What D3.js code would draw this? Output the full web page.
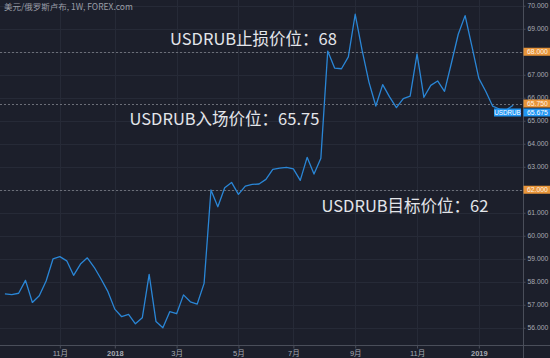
<!DOCTYPE html>
<html>
<head>
<meta charset="utf-8">
<script src="https://cdn.jsdelivr.net/npm/d3@7"></script>
<style>
  html, body { margin: 0; padding: 0; background: #1c1f2b; }
  svg { display: block; }
</style>
</head>
<body>
<svg id="chart" width="550" height="358"></svg>
<script>
// Weekly USD/RUB closes, one per Monday bar starting 2017-09-11
const firstWeek = "2017-09-11";
const closes = [
  57.47, 57.44, 57.50, 58.06, 57.10, 57.39, 58.03, 58.99, 59.09, 58.91,
  58.28, 58.77, 59.04, 58.63, 58.12, 57.57, 56.81, 56.48, 56.58, 56.17,
  56.43, 58.32, 56.27, 56.00, 56.70, 56.61, 57.43, 57.13, 57.03, 57.93,
  61.99, 61.26, 62.09, 62.32, 61.80, 62.16, 62.23, 62.25, 62.45, 62.89,
  62.94, 62.97, 62.91, 62.41, 63.41, 62.68, 63.37, 68.03, 67.29, 67.26,
  67.78, 69.63, 68.07, 66.68, 65.64, 66.57, 66.04, 65.57, 65.96, 66.07,
  67.91, 66.02, 66.54, 66.73, 66.28, 67.50, 68.76, 69.57, 68.22, 66.84,
  66.28, 65.64, 65.51, 65.47, 65.675
];

// Time-axis ticks (first weekly bar of each labelled month)
const xTickDates  = ["2017-11-06", "2018-01-01", "2018-03-05", "2018-05-07", "2018-07-02", "2018-09-03", "2018-11-05", "2019-01-07"];
const xTickLabels = ["11月", "2018", "3月", "5月", "7月", "9月", "11月", "2019"];
const yTicks = [56, 57, 58, 59, 60, 61, 62, 63, 64, 65, 66, 67, 68, 69, 70];

// Trade levels
const levelNames  = ["USDRUB止损价位：", "USDRUB入场价位：", "USDRUB目标价位："];
const levelValues = [68, 65.75, 62];

const symbolName = "USDRUB";
const chartTitle = "美元/俄罗斯卢布, 1W, FOREX.com";

const W = 550, H = 358;
const plotRight = 523, plotBottom = 345;

const parse = d3.utcParse("%Y-%m-%d");
const start = parse(firstWeek);
const weeks = closes.map((_, i) => d3.utcMonday.offset(start, i));
const data = weeks.map((d, i) => ({ date: d, value: closes[i] }));

const x = d3.scaleUtc()
  .domain([parse("2017-09-06"), parse("2019-02-21")])
  .range([0, plotRight]);
const y = d3.scaleLinear()
  .domain([55.25, 70.25])
  .range([plotBottom, 0]);

const svg = d3.select("#chart");
const bg = "#1c1f2b";
const gridColor = "#262a37";
const axisText = "#a7aab3";
const fontUI = "'Liberation Sans', Arial, sans-serif";
const fontCJK = "'Noto Sans CJK SC', 'Noto Sans', sans-serif";
const fontMixed = "'Liberation Sans', 'Noto Sans CJK SC', sans-serif";
const scaleFont = 6.8;

svg.append("rect").attr("width", W).attr("height", H).attr("fill", bg);

const tickDates = xTickDates.map(parse);

// grid
const grid = svg.append("g");
grid.selectAll("line.h").data(yTicks).join("line")
  .attr("x1", 0).attr("x2", plotRight)
  .attr("y1", d => Math.round(y(d)) + 0.5).attr("y2", d => Math.round(y(d)) + 0.5)
  .attr("stroke", gridColor).attr("stroke-width", 1);
grid.selectAll("line.v").data(tickDates).join("line")
  .attr("x1", d => Math.round(x(d)) + 0.5).attr("x2", d => Math.round(x(d)) + 0.5)
  .attr("y1", 0).attr("y2", plotBottom)
  .attr("stroke", gridColor).attr("stroke-width", 1);

// level lines (dotted)
svg.append("g").selectAll("line").data(levelValues).join("line")
  .attr("x1", 0).attr("x2", plotRight)
  .attr("y1", d => Math.round(y(d)) + 0.5).attr("y2", d => Math.round(y(d)) + 0.5)
  .attr("stroke", "#6b6e78").attr("stroke-width", 1)
  .attr("stroke-dasharray", "2,2");

// price line
svg.append("path")
  .datum(data)
  .attr("fill", "none")
  .attr("stroke", "#2a86d6")
  .attr("stroke-width", 1.3)
  .attr("stroke-linejoin", "round")
  .attr("d", d3.line().x(d => x(d.date)).y(d => y(d.value)));

// right axis
const yAxis = d3.axisRight(y)
  .tickValues(yTicks)
  .tickSize(2)
  .tickPadding(2)
  .tickFormat(d3.format(".3f"));
const gy = svg.append("g")
  .attr("transform", `translate(${plotRight + 0.5},0)`)
  .call(yAxis);
gy.select(".domain").attr("stroke", "#4a4e5a").attr("d", `M0,0V${H}`);
gy.selectAll(".tick line").attr("stroke", "#4a4e5a");
gy.selectAll(".tick text").attr("fill", axisText).attr("font-size", scaleFont).attr("font-family", fontUI);

// bottom axis
const xAxis = d3.axisBottom(x)
  .tickValues(tickDates)
  .tickSize(3)
  .tickPadding(2)
  .tickFormat((d, i) => xTickLabels[i]);
const gx = svg.append("g")
  .attr("transform", `translate(0,${plotBottom + 0.5})`)
  .call(xAxis);
gx.select(".domain").attr("stroke", "#4a4e5a").attr("d", `M0,0H${W}`);
gx.selectAll(".tick line").attr("stroke", "#4a4e5a");
gx.selectAll(".tick text")
  .attr("fill", axisText).attr("font-size", 7.5).attr("font-family", fontMixed)
  .attr("font-weight", (d, i) => /^\d+$/.test(xTickLabels[i]) ? "bold" : "normal");

// price tags on the right scale
const tagH = 8;
const fmt = d3.format(".3f");
const tags = svg.append("g");
levelValues.forEach(v => {
  const cy = y(v);
  tags.append("rect")
    .attr("x", plotRight + 0.5).attr("y", cy - tagH / 2)
    .attr("width", W - plotRight).attr("height", tagH)
    .attr("fill", "#e8953a");
  tags.append("text")
    .attr("x", plotRight + 4).attr("y", cy + 2.5)
    .attr("fill", "#fdf3e6").attr("font-size", scaleFont).attr("font-family", fontUI)
    .text(fmt(v));
});

// last-price tag, pushed below the entry tag it would overlap
const lastVal = closes[closes.length - 1];
const entryBottom = y(levelValues[1]) + tagH / 2;
const lastCy = Math.max(y(lastVal), entryBottom + 1 + tagH / 2);
tags.append("rect")
  .attr("x", plotRight + 0.5).attr("y", lastCy - tagH / 2)
  .attr("width", W - plotRight).attr("height", tagH)
  .attr("fill", "#2196f3");
tags.append("text")
  .attr("x", plotRight + 4).attr("y", lastCy + 2.5)
  .attr("fill", "#ffffff").attr("font-size", scaleFont).attr("font-family", fontUI)
  .text(fmt(lastVal));
tags.append("rect")
  .attr("x", 494).attr("y", lastCy - tagH / 2)
  .attr("width", 27).attr("height", tagH)
  .attr("fill", "#2196f3");
tags.append("text")
  .attr("x", 507.5).attr("y", lastCy + 2.5)
  .attr("text-anchor", "middle")
  .attr("fill", "#ffffff").attr("font-size", 6.3).attr("font-family", fontUI)
  .text(symbolName);

// chart title
svg.append("text")
  .attr("x", 4).attr("y", 10)
  .attr("fill", "#9a9da6").attr("font-size", 8.5).attr("font-family", fontCJK)
  .text(chartTitle);

// level annotations
const annX = [170, 129.5, 321.5];
const annDy = [-7, 21, 22];
svg.append("g").selectAll("text").data(levelValues).join("text")
  .attr("x", (d, i) => annX[i])
  .attr("y", (d, i) => y(d) + annDy[i])
  .attr("fill", "#e3e5ea")
  .attr("font-size", 16.5)
  .attr("font-family", fontCJK)
  .text((d, i) => levelNames[i] + d);
</script>
</body>
</html>
